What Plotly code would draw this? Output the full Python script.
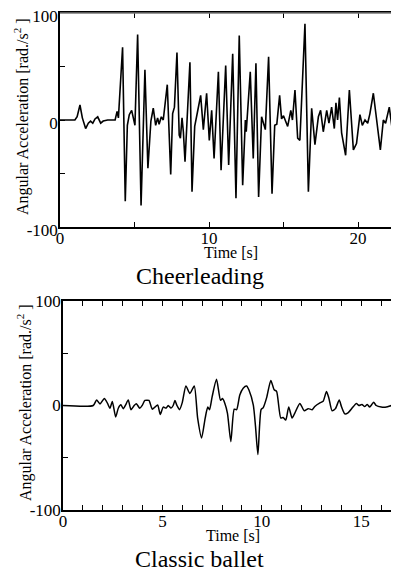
import plotly.graph_objects as go

# ---- data: Cheerleading ----
cheer_t = [0, 1.0, 1.15, 1.34, 1.5, 1.72, 1.9, 2.05, 2.2, 2.35, 2.53, 2.73, 2.9, 3.2, 3.5, 3.7, 3.83, 3.92,
           4.2, 4.38, 4.52, 4.65, 4.81, 4.92, 5.03, 5.21, 5.44, 5.70, 5.9, 6.1, 6.26, 6.42, 6.55, 6.65, 6.8,
           6.93, 7.2, 7.43, 7.56, 7.68, 7.85, 8.0, 8.08, 8.19, 8.28, 8.39, 8.5, 8.72, 8.86, 9.04, 9.22, 9.44,
           9.62, 9.84, 10.02, 10.18, 10.34, 10.63, 10.81, 11.12, 11.32, 11.59, 11.81, 12.03, 12.26, 12.44,
           12.5, 12.77, 12.97, 13.15, 13.33, 13.53, 13.78, 14.0, 14.23, 14.41, 14.55, 14.74, 14.87, 15.0,
           15.28, 15.49, 15.6, 15.77, 15.95, 16.1, 16.44, 16.67, 16.89, 17.11, 17.34, 17.49, 17.67, 17.9,
           18.05, 18.23, 18.41, 18.52, 18.63, 18.75, 18.9, 19.17, 19.42, 19.69, 19.9, 20.13, 20.29, 20.47,
           20.65, 20.8, 21.03, 21.25, 21.5, 21.7, 21.85, 22.1, 22.3, 22.45, 22.6, 22.75]
cheer_v = [0, 0, 3, 14, 2, -8, -3, -1, -3, 1, 3, -3, -1, 0, 0, 0, 8, 2,
           68, -76, -5, 5, 9, 2, -5, 80, -80, 47, -45, -1, 11, -5, 2, -4, 3,
           0, 33, -51, 6, 12, 63, -14, -17, 2, -11, -39, -4, 54, -67, -6, 7, 23,
           -9, 25, -19, 9, -36, 45, -47, 51, -42, 62, -73, 79, -61, 0,
           -11, 45, -36, 53, -72, 3, -9, 59, -69, -5, -4, 23, 1, 4,
           -6, 9, 0, 28, -17, -19, 90, -67, 11, -23, 3, 9, -11, 9,
           -3, 12, -8, 16, 0, 21, -12, -33, 28, -28, -22, 5, -5, 0,
           -3, 6, 25, 0, -28, 0, -3, 12, -9, -1, 2, 2.5]

# ---- data: Classic ballet ----
ballet_t = [0, 1.52, 1.69, 1.86, 2.08, 2.24, 2.36, 2.48, 2.65, 2.78, 2.91, 3.03, 3.15, 3.28, 3.42, 3.58,
            3.69, 3.86, 3.98, 4.12, 4.32, 4.49, 4.62, 4.76, 4.89, 5.04, 5.18, 5.29, 5.43, 5.54, 5.63, 5.73,
            5.86, 6.0, 6.18, 6.38, 6.6, 6.77, 6.97, 7.15, 7.28, 7.37, 7.5, 7.72, 7.92, 8.02, 8.14, 8.27,
            8.44, 8.61, 8.73, 8.89, 9.06, 9.23, 9.35, 9.57, 9.68, 9.80, 9.96, 10.07, 10.24, 10.45, 10.62,
            10.74, 10.95, 11.07, 11.2, 11.35, 11.52, 11.65, 11.91, 12.13, 12.33, 12.53, 12.66, 12.92, 13.08,
            13.25, 13.37, 13.53, 13.7, 13.89, 14.0, 14.17, 14.33, 14.58, 14.75, 14.88, 15.03, 15.17, 15.3,
            15.42, 15.62, 15.75, 16.0, 16.26, 16.51, 16.71, 16.81, 16.87]
ballet_v = [0, 0, 5.3, 1.5, 6.8, 2, -2.6, 3.8, -11, -2.6, 0.6, -3, 0.6, 5.3, -4, 0,
            1.6, -2.6, 0, 4.8, 4.8, -3.5, -1.5, 0.6, -8.5, -1.5, -2.5, 0, -2.5, 0, 4.8, 0,
            -4, 3, 18.7, 11.5, 18.7, -12, -31, -12, -1.5, -4, 8.5, 25, 5, 6.6, 2, -7.5,
            -34.6, -3.5, -4, 10, 16.6, 18.7, 14.8, 0.3, -20, -47, -4, -2, 7.5, 24, 15,
            13.5, -12, -11.5, -14, -1.5, -12, -7.5, 2, -5, -3, -4, -1, 2.5, 4,
            13.5, 7, -5, -3, 5.3, -1, -8, -7, -1.5, 2, 0, 1, -1, 1,
            -1.5, 3, 0, -1.5, -1.5, 0, 1, -3.5, -3]

y_tickvals = [-100, -50, 0, 50, 100]
y_ticktext = ["-100", " ", "0", " ", "100"]
cheer_xticks = [0, 5, 10, 15, 20]
cheer_xtext = ["0", " ", "10", " ", "20"]
ballet_xticks = list(range(0, 17))
ballet_xtext = [str(v) if v % 5 == 0 else " " for v in ballet_xticks]

titles = ["Cheerleading", "Classic ballet"]
x_title = "Time [s]"
y_title = "Angular Acceleration [rad./s<sup>2</sup> ]"

# page body has an 8px margin: the figure is drawn at (8, 8) of the page
OFF = 8
W, H = 399 - OFF, 571 - OFF
SERIF = "Liberation Serif, Times New Roman, serif"

def py(p):
    return 1 - (p - OFF) / H

def px(p):
    return (p - OFF) / W

fig = go.Figure()
fig.add_trace(go.Scatter(x=cheer_t, y=cheer_v, mode="lines",
                         line=dict(color="black", width=1.6), xaxis="x", yaxis="y"))
fig.add_trace(go.Scatter(x=ballet_t, y=ballet_v, mode="lines",
                         line=dict(color="black", width=1.5, shape="spline", smoothing=0.6),
                         xaxis="x2", yaxis="y2"))

tickfont = dict(family=SERIF, size=17, color="black")
common = dict(showgrid=False, zeroline=False, ticks="inside", ticklen=5, tickwidth=1,
              tickcolor="black", linecolor="black", linewidth=1.5, showline=True,
              tickfont=tickfont, fixedrange=True, automargin=False, ticklabeloverflow="allow")

fig.update_layout(
    width=W, height=H, margin=dict(l=0, r=0, t=0, b=0, autoexpand=False),
    paper_bgcolor="white", plot_bgcolor="white", showlegend=False,
    xaxis=dict(domain=[px(60), 1.0], range=[0, (399 - 60) / 14.9], tickvals=cheer_xticks, ticktext=cheer_xtext,
               anchor="y", mirror="ticks", ticklabelstandoff=-5, **common),
    yaxis=dict(domain=[py(227), py(13)], range=[-100, 100], tickvals=y_tickvals, ticktext=y_ticktext,
               anchor="x", mirror=False, ticklabelstandoff=-3, ticklabelshift=3, **common),
    xaxis2=dict(domain=[px(63), px(398.5)], range=[0, 16.87], tickvals=ballet_xticks, ticktext=ballet_xtext,
                anchor="y2", mirror="ticks", ticklabelstandoff=-5, **common),
    yaxis2=dict(domain=[py(510), py(301)], range=[-100, 100], tickvals=y_tickvals, ticktext=y_ticktext,
                anchor="x2", mirror="ticks", ticklabelstandoff=-3, **common),
)

# gray top border of top chart
fig.add_shape(type="line", xref="paper", yref="paper", x0=px(60), x1=1.0, y0=py(13), y1=py(13),
              line=dict(color="#777777", width=1.5), layer="above")

ann_font = dict(family=SERIF, color="black")
for txt, cx, cy in [(x_title, 231, 252), (x_title, 233, 535)]:
    fig.add_annotation(text=txt, x=px(cx), y=py(cy), xref="paper", yref="paper", showarrow=False,
                       xanchor="center", yanchor="middle", font=dict(size=16, **ann_font))
for txt, cy in [(titles[0], 276), (titles[1], 559)]:
    fig.add_annotation(text=txt, x=px(199.5), y=py(cy), xref="paper", yref="paper", showarrow=False,
                       xanchor="center", yanchor="middle", font=dict(size=24, **ann_font))
for cx, cy in [(21, 117), (24, 403)]:
    fig.add_annotation(text=y_title, x=px(cx), y=py(cy), xref="paper", yref="paper", showarrow=False,
                       xanchor="center", yanchor="middle", textangle=-90, font=dict(size=16, **ann_font))

fig.write_html("out.html")
